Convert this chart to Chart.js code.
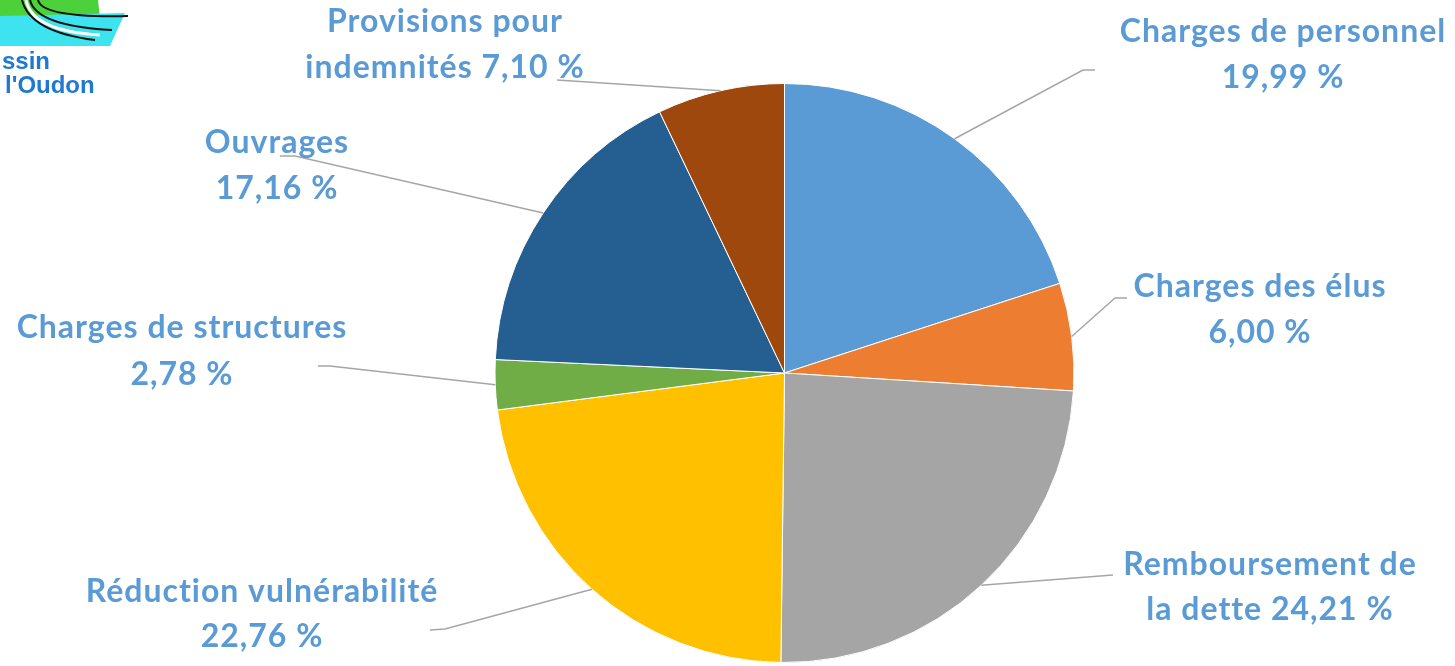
<!DOCTYPE html>
<html>
<head>
<meta charset="utf-8">
<script src="https://cdn.jsdelivr.net/npm/chart.js@4"></script>
<style>
  html, body { margin: 0; padding: 0; background: #fff; }
  #wrap { position: relative; width: 1455px; height: 666px; }
</style>
</head>
<body>
<div id="wrap"><canvas id="pie" width="1455" height="666"></canvas></div>
<script>
const categories = ['Charges de personnel', 'Charges des élus', 'Remboursement de la dette', 'Réduction vulnérabilité', 'Charges de structures', 'Ouvrages', 'Provisions pour indemnités'];
const values = [19.99, 6.00, 24.21, 22.76, 2.78, 17.16, 7.10];
const colors = ['#5B9BD5', '#ED7D31', '#A5A5A5', '#FFC000', '#70AD47', '#255E91', '#9E480E'];

// where each label sits, how many words go on its first line, and the leader bend points
const labelLayout = [
    { x: 1283, y: [32, 78],  words: 3, leader: [[1083, 70], [1095, 70]] },
    { x: 1260, y: [287, 333], words: 3, leader: [[1115, 298], [1127, 298]] },
    { x: 1270, y: [565, 610], words: 2, leader: [[1113, 575]] },
    { x: 262,  y: [592, 637], words: 2, leader: [[445, 629], [430, 630]] },
    { x: 182,  y: [328, 375], words: 3, leader: [[330, 366], [318, 366]] },
    { x: 277,  y: [143, 189], words: 1, leader: [[295, 156], [280, 156]] },
    { x: 445,  y: [22, 68],   words: 2, leader: [[557, 80]] }
];

const fmt = v => v.toFixed(2).replace('.', ',') + ' %';

const labelsPlugin = {
    id: 'leaderLabels',
    afterDatasetsDraw(chart) {
        const c = chart.ctx;
        const arcs = chart.getDatasetMeta(0).data;
        c.save();
        arcs.forEach((arc, i) => {
            const lay = labelLayout[i];
            const mid = (arc.startAngle + arc.endAngle) / 2;
            const sx = arc.x + Math.cos(mid) * arc.outerRadius;
            const sy = arc.y + Math.sin(mid) * arc.outerRadius;
            c.beginPath();
            c.moveTo(sx, sy);
            lay.leader.forEach(p => c.lineTo(p[0], p[1]));
            c.strokeStyle = '#A6A6A6';
            c.lineWidth = 1.5;
            c.stroke();

            const words = categories[i].split(' ');
            const first = words.slice(0, lay.words).join(' ');
            const rest = words.slice(lay.words).join(' ');
            const second = (rest ? rest + ' ' : '') + fmt(values[i]);
            c.fillStyle = '#5B9BD5';
            c.font = 'bold 32px Lato';
            c.letterSpacing = '1px';
            c.textAlign = 'center';
            c.textBaseline = 'middle';
            c.fillText(first, lay.x, lay.y[0]);
            c.fillText(second, lay.x, lay.y[1]);
        });
        c.restore();
    }
};

// cropped logo in the top-left corner
const logoPlugin = {
    id: 'logo',
    beforeDraw(chart) {
        const c = chart.ctx;
        c.save();
        c.fillStyle = '#4CD13A';
        c.beginPath();
        c.moveTo(0, 0); c.lineTo(98, 0); c.lineTo(100, 18); c.lineTo(0, 18);
        c.closePath(); c.fill();
        c.fillStyle = '#3DE3EE';
        c.beginPath();
        c.moveTo(0, 16); c.lineTo(125, 13); c.lineTo(110, 46); c.lineTo(0, 46);
        c.closePath(); c.fill();
        c.strokeStyle = '#111';
        c.lineWidth = 2;
        [[22, 0, 30, 32, 95, 40], [30, 0, 36, 26, 112, 30], [38, 0, 42, 18, 128, 16]].forEach(s => {
            c.beginPath();
            c.moveTo(s[0], s[1]);
            c.quadraticCurveTo(s[2], s[3], s[4], s[5]);
            c.stroke();
        });
        c.strokeStyle = '#fff';
        c.lineWidth = 3;
        c.beginPath();
        c.moveTo(26, 0); c.quadraticCurveTo(32, 31, 100, 35);
        c.stroke();
        c.fillStyle = '#1F78D1';
        c.font = 'bold 24px "Liberation Sans"';
        c.textAlign = 'left';
        c.textBaseline = 'alphabetic';
        c.fillText('ssin', 2, 69);
        c.fillText("l'Oudon", 5, 93);
        c.restore();
    }
};

new Chart(document.getElementById('pie'), {
    type: 'pie',
    data: {
        labels: categories,
        datasets: [{
            data: values,
            backgroundColor: colors,
            borderColor: '#ffffff',
            borderWidth: 1
        }]
    },
    options: {
        responsive: false,
        animation: false,
        layout: { padding: { top: 83, bottom: 3, left: 494, right: 380 } },
        plugins: {
            legend: { display: false },
            tooltip: { enabled: false }
        }
    },
    plugins: [logoPlugin, labelsPlugin]
});
</script>
</body>
</html>
